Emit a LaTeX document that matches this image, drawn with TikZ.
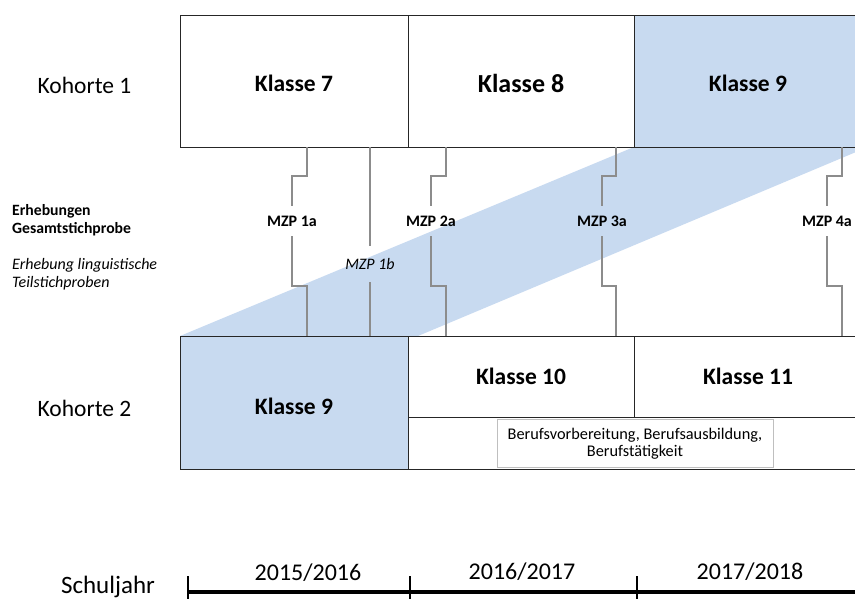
\documentclass[tikz,border=0pt]{standalone}
\usepackage{fontspec}
\setmainfont{Carlito}
\definecolor{bandblue}{RGB}{200,218,240}
\definecolor{mzpgray}{RGB}{140,140,140}
\tikzset{
  klasse/.style = {draw=black!85, line width=0.9pt, inner sep=0pt,
    font=\bfseries\fontsize{23.5}{26}\selectfont},
  kohorte/.style = {inner sep=0pt, font=\fontsize{23.5}{26}\selectfont},
  erheb/.style = {inner sep=0pt, anchor=west, align=left,
    font=\bfseries\fontsize{15.7}{18}\selectfont},
  mzp/.style = {inner sep=0pt, minimum height=30pt,
    font=\bfseries\fontsize{16}{18}\selectfont},
  mzpline/.style = {draw=mzpgray, line width=1.8pt},
  jahr/.style = {inner sep=0pt, font=\fontsize{24}{26}\selectfont}
}

\begin{document}
\begin{tikzpicture}[x=1pt, y=-1pt]

	\useasboundingbox (0,0) rectangle (855,599);
	\clip (0,0) rectangle (855,599);

	% band from Klasse 9 (Kohorte 2) up to Klasse 9 (Kohorte 1)
	\fill[bandblue] (180,336) -- (418,336) -- (868,147) -- (634,147) -- cycle;

	% Kohorte 1
	\node[kohorte] (koh1) at (84.5,85) {Kohorte 1};
	\node[klasse, minimum width=228pt, minimum height=132pt, text height=21pt] (k7) at (294,81) {Klasse 7};
	\node[klasse, minimum width=226pt, minimum height=132pt, text height=23pt,
	  font=\bfseries\fontsize{26}{28}\selectfont] (k8) at (521,81) {Klasse 8};
	\node[klasse, fill=bandblue, minimum width=228pt, minimum height=132pt, text height=21pt] (k9) at (748,81) {Klasse 9};

	% Kohorte 2
	\node[kohorte] (koh2) at (84.5,408) {Kohorte 2};
	\node[klasse, fill=bandblue, minimum width=228pt, minimum height=133pt, text height=24pt] (k9b) at (294,402.5) {Klasse 9};
	\node[klasse, minimum width=226pt, minimum height=81pt] (k10) at (521,376.5) {Klasse 10};
	\node[klasse, minimum width=228pt, minimum height=81pt] (k11) at (748,376.5) {Klasse 11};
	\node[klasse, minimum width=454pt, minimum height=52pt] (brow) at (635,443) {};
	\node[draw=black!25, line width=0.8pt, minimum width=276pt, minimum height=48pt, inner sep=0pt,
	  align=center, font=\fontsize{16.3}{17}\selectfont] (beruf) at (635,443.5)
	  {Berufsvorbereitung, Berufsausbildung,\\Berufstätigkeit};

	% Erhebungen
	\node[erheb] (erh) at (12,220) {Erhebungen\\Gesamtstichprobe};
	\node[erheb, font=\itshape\fontsize{16}{18}\selectfont] (ling) at (12,274) {Erhebung linguistische\\Teilstichproben};

	% Messzeitpunkte Gesamtstichprobe
	\foreach \xt/\xl/\nm in {307/292/1a, 446/431/2a, 616/602/3a, 842/827/4a} {
		\node[mzp] (m\nm) at (\xl,221) {MZP \nm};
		\draw[mzpline] (\xt,0 |- k7.south) -- (\xt,176) -- (\xl,176) -- (m\nm.north);
		\draw[mzpline] (m\nm.south) -- (\xl,286) -- (\xt,286) -- (\xt,0 |- k9b.north);
	}
	% Messzeitpunkt Teilstichprobe
	\node[mzp, minimum height=36pt, font=\itshape\fontsize{16}{18}\selectfont] (m1b) at (370,264) {MZP 1b};
	\draw[mzpline] (370,0 |- k7.south) -- (m1b.north);
	\draw[mzpline] (m1b.south) -- (370,0 |- k9b.north);

	% Zeitachse
	\node[jahr, font=\fontsize{25}{27}\selectfont] (sj) at (108,587) {Schuljahr};
	\coordinate (t0) at (188,592);
	\coordinate (t1) at (410,592);
	\coordinate (t2) at (637,592);
	\coordinate (tend) at (860,592);
	\draw[line width=4pt] (t0) -- (tend);
	\foreach \t in {t0,t1,t2}
		\draw[line width=1.5pt] (\t) ++(0,-16) -- ++(0,24);
	\node[jahr] (j1) at (308,573) {2015/2016};
	\node[jahr] (j2) at (522,572) {2016/2017};
	\node[jahr] (j3) at (750,572) {2017/2018};

\end{tikzpicture}
\end{document}
